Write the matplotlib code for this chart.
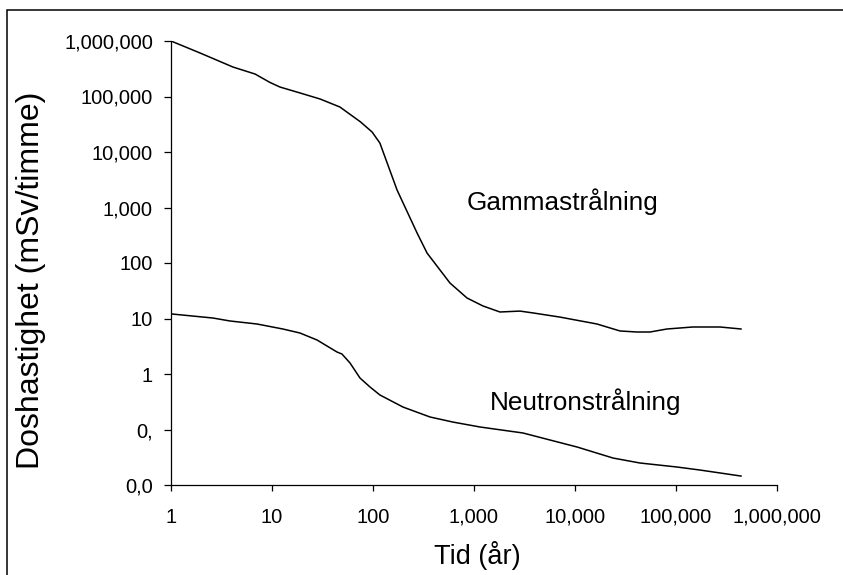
import matplotlib
matplotlib.use("Agg")
import matplotlib.pyplot as plt
from matplotlib.patches import Rectangle
from matplotlib.ticker import FixedLocator, FixedFormatter, NullLocator

plt.rcParams['font.family'] = ['Liberation Sans', 'DejaVu Sans']

# Gamma radiation dose rate
gamma_years = [1, 1.94, 4.1, 6.8, 9.5, 12, 18.9, 30, 47, 75, 98, 117, 173, 273,
               343, 578, 853, 1228, 1807, 2853, 3837, 7100, 16500, 27900,
               41100, 55300, 81400, 147000, 273000, 440000]
gamma_dose = [1e6, 608000, 340000, 254000, 180000, 148000, 116000, 90000,
              64700, 35000, 22900, 14500, 2070, 348, 151, 43.6, 23.4, 16.8,
              13.1, 13.6, 12.6, 10.6, 7.96, 5.96, 5.71, 5.71, 6.47, 7.03,
              7.03, 6.47]

# Neutron radiation dose rate
neutron_years = [1, 2.6, 3.84, 7.1, 12.8, 18.9, 27.9, 44, 49.3, 59.2, 74.3,
                 93.4, 117, 198, 367, 620, 1146, 3055, 5650, 10470, 23800,
                 44000, 102000, 173000, 440000]
neutron_dose = [12.1, 10.2, 9.02, 7.96, 6.47, 5.48, 4.10, 2.49, 2.29, 1.58,
                0.847, 0.583, 0.419, 0.254, 0.168, 0.136, 0.111, 0.0865,
                0.0647, 0.0484, 0.0306, 0.0249, 0.0211, 0.0186, 0.0145]

x_ticks = [1, 10, 100, 1e3, 1e4, 1e5, 1e6]
x_ticklabels = ["1", "10", "100", "1,000", "10,000", "100,000", "1,000,000"]
y_ticks = [0.01, 0.1, 1, 10, 100, 1e3, 1e4, 1e5, 1e6]
y_ticklabels = ["0,0", "0,", "1", "10", "100", "1,000", "10,000", "100,000",
                "1,000,000"]

fig = plt.figure(figsize=(8.43, 5.75), dpi=100)
ax = fig.add_axes([171 / 843, 1 - 485 / 575, 606 / 843, 444 / 575])

ax.plot(gamma_years, gamma_dose, color="black", lw=1.1)
ax.plot(neutron_years, neutron_dose, color="black", lw=1.1)

ax.set_xscale("log")
ax.set_yscale("log")
ax.set_xlim(1, 1e6)
ax.set_ylim(0.01, 1e6)

ax.xaxis.set_major_locator(FixedLocator(x_ticks))
ax.xaxis.set_major_formatter(FixedFormatter(x_ticklabels))
ax.xaxis.set_minor_locator(NullLocator())
ax.yaxis.set_major_locator(FixedLocator(y_ticks))
ax.yaxis.set_major_formatter(FixedFormatter(y_ticklabels))
ax.yaxis.set_minor_locator(NullLocator())

ax.spines["top"].set_visible(False)
ax.spines["right"].set_visible(False)
for s in ("left", "bottom"):
    ax.spines[s].set_linewidth(0.9)
ax.tick_params(axis="x", direction="out", length=4.5, width=0.9,
               labelsize=14.5, pad=12)
ax.tick_params(axis="y", direction="out", length=5, width=0.9,
               labelsize=14.5, pad=8)

ax.text(562 / 843, 1 - 202 / 575, "Gammastrålning", transform=fig.transFigure,
        ha="center", va="center", fontsize=18.8)
ax.text(586 / 843, 1 - 402 / 575, "Neutronstrålning", transform=fig.transFigure,
        ha="center", va="center", fontsize=18.8)

fig.text(31 / 843, 1 - 280 / 575, "Doshastighet (mSv/timme)", rotation=90,
         ha="center", va="center", fontsize=23)
fig.text(477 / 843, 1 - 556 / 575, "Tid (år)", ha="center", va="center",
         fontsize=19.5)

# outer frame (only top and left edges are inside the image)
fig.patches.append(Rectangle((7 / 843, -0.1), 1.2, 1.1 - 10 / 575,
                             transform=fig.transFigure, fill=False,
                             edgecolor="black", lw=1.1))

fig.savefig("out.png", dpi=100)
